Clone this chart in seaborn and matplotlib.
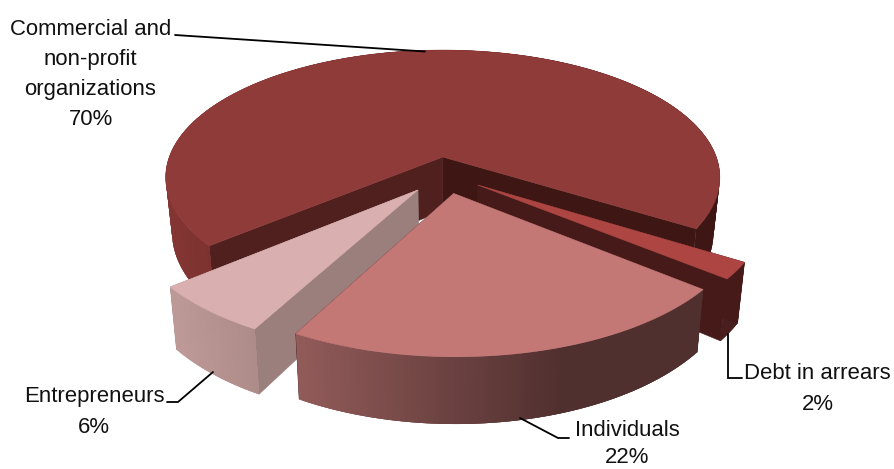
import numpy as np
import matplotlib
matplotlib.use("Agg")
import matplotlib.pyplot as plt
from matplotlib.collections import PolyCollection
from matplotlib.patches import Polygon
import seaborn as sns

# Portfolio shares, in percent
categories = ["Commercial and\nnon-profit\norganizations", "Debt in arrears", "Individuals", "Entrepreneurs"]
shares = [70, 2, 22, 6]

# Slice appearance, in the same order as the shares
explode = [0.137, 0.140, 0.147, 0.153]
top_colors = ["#8F3B39", "#AD4642", "#C47876", "#D9B0AF"]
rim_light = ["#833533", "#471A1A", "#B06F6D", "#BE9A98"]
rim_dark = ["#3E1714", "#471A1A", "#50302F", "#6E5654"]
cut_start_colors = ["#3E1714", "#471A1A", "#461A1A", "#9A7F7D"]
cut_end_colors = ["#50201F", "#471A1A", "#461A1A", "#9A7F7D"]

# Pie projection
START_ANGLE = 220.0
CENTER_X, CENTER_Y = 443.0, 157.0
RADIUS_X, RADIUS_Y = 273.5, 124.0
PERSPECTIVE = 0.16
DEPTH = 53.5
BOTTOM_SCALE = 0.977
PIE_CENTER = np.array([0.0087, -0.1365])
GRADIENT_LEFT, GRADIENT_RIGHT = 170.0, 560.0

sns.set_theme(style="white")
plt.rcParams["font.family"] = ["Liberation Sans", "DejaVu Sans"]

fig = plt.figure(figsize=(8.94, 4.69), dpi=100, facecolor="white")
ax = fig.add_axes([0, 0, 1, 1])
ax.set_xlim(0, 894)
ax.set_ylim(469, 0)
ax.axis("off")


def project(gx, gy, lower=False):
    """Map ground-plane pie coordinates to the canvas, on the top or bottom face."""
    w = 1 + PERSPECTIVE * gy
    sx = RADIUS_X * gx / w
    sy = CENTER_Y - RADIUS_Y * gy / w
    if lower:
        return np.column_stack([CENTER_X + sx * BOTTOM_SCALE, sy + DEPTH / w])
    return np.column_stack([CENTER_X + sx, sy])


def draw_slice(theta1, theta2, frac, top, light, dark, cut_a, cut_b):
    mid = np.radians((theta1 + theta2) / 2)
    apex = PIE_CENTER + frac * np.array([np.cos(mid), np.sin(mid)])
    angles = np.radians(np.linspace(theta1, theta2, 240))
    gx = apex[0] + np.cos(angles)
    gy = apex[1] + np.sin(angles)
    upper = project(gx, gy)
    lower = project(gx, gy, lower=True)
    apex_up = project(apex[:1], apex[1:])
    apex_low = project(apex[:1], apex[1:], lower=True)

    # Straight cut faces, far one first
    faces = [
        (upper[0], lower[0], cut_a),
        (upper[-1], lower[-1], cut_b),
    ]
    faces.sort(key=lambda f: f[0][1])
    for up, low, col in faces:
        ax.add_patch(Polygon([apex_up[0], up, low, apex_low[0]], closed=True,
                             facecolor=col, edgecolor=col, lw=0.4))

    # Curved rim, shaded horizontally; each strip overlaps the next to hide seams
    ramp = sns.blend_palette([light, dark], n_colors=128)
    quads, colours = [], []
    n = len(angles)
    for i in range(n - 1):
        j = min(i + 3, n - 1)
        quads.append(np.vstack([upper[i:j + 1], lower[i:j + 1][::-1]]))
        t = (upper[i, 0] - GRADIENT_LEFT) / (GRADIENT_RIGHT - GRADIENT_LEFT)
        colours.append(ramp[int(np.clip(t, 0, 1) * 127)])
    ax.add_collection(PolyCollection(quads, facecolors=colours, edgecolors="none", linewidths=0))

    ax.add_patch(Polygon(np.vstack([apex_up, upper]), closed=True,
                         facecolor=top, edgecolor=top, lw=0.4))


# Slices run clockwise from the start angle
sweeps = 3.6 * np.array(shares, dtype=float)
ends = START_ANGLE - np.cumsum(sweeps)
starts = ends + sweeps

# Painter's order: large slice, arrears, entrepreneurs, individuals
for idx in [0, 1, 3, 2]:
    draw_slice(ends[idx], starts[idx], explode[idx], top_colors[idx],
               rim_light[idx], rim_dark[idx], cut_start_colors[idx], cut_end_colors[idx])

# Value labels with their leader lines
label_centers = [(90.5, 74.5), (817.5, 389), (627, 444), (94, 412)]
label_spacing = [1.58, 1.58, 1.42, 1.58]
leader_paths = [
    [(175, 35), (425, 51.5)],
    [(728, 334), (728, 378.5), (742, 378.5)],
    [(520, 418), (558, 438), (569, 438)],
    [(213, 372), (178, 402), (167, 402)],
]
for name, share, (tx, ty), gap, path in zip(categories, shares, label_centers, label_spacing, leader_paths):
    ax.text(tx, ty, f"{name}\n{share}%", ha="center", va="center", ma="center",
            fontsize=15.9, color="#111111", linespacing=gap)
    xs, ys = zip(*path)
    ax.plot(xs, ys, color="black", lw=1.3, solid_joinstyle="miter")

fig.savefig("out.png", dpi=100, facecolor="white")
